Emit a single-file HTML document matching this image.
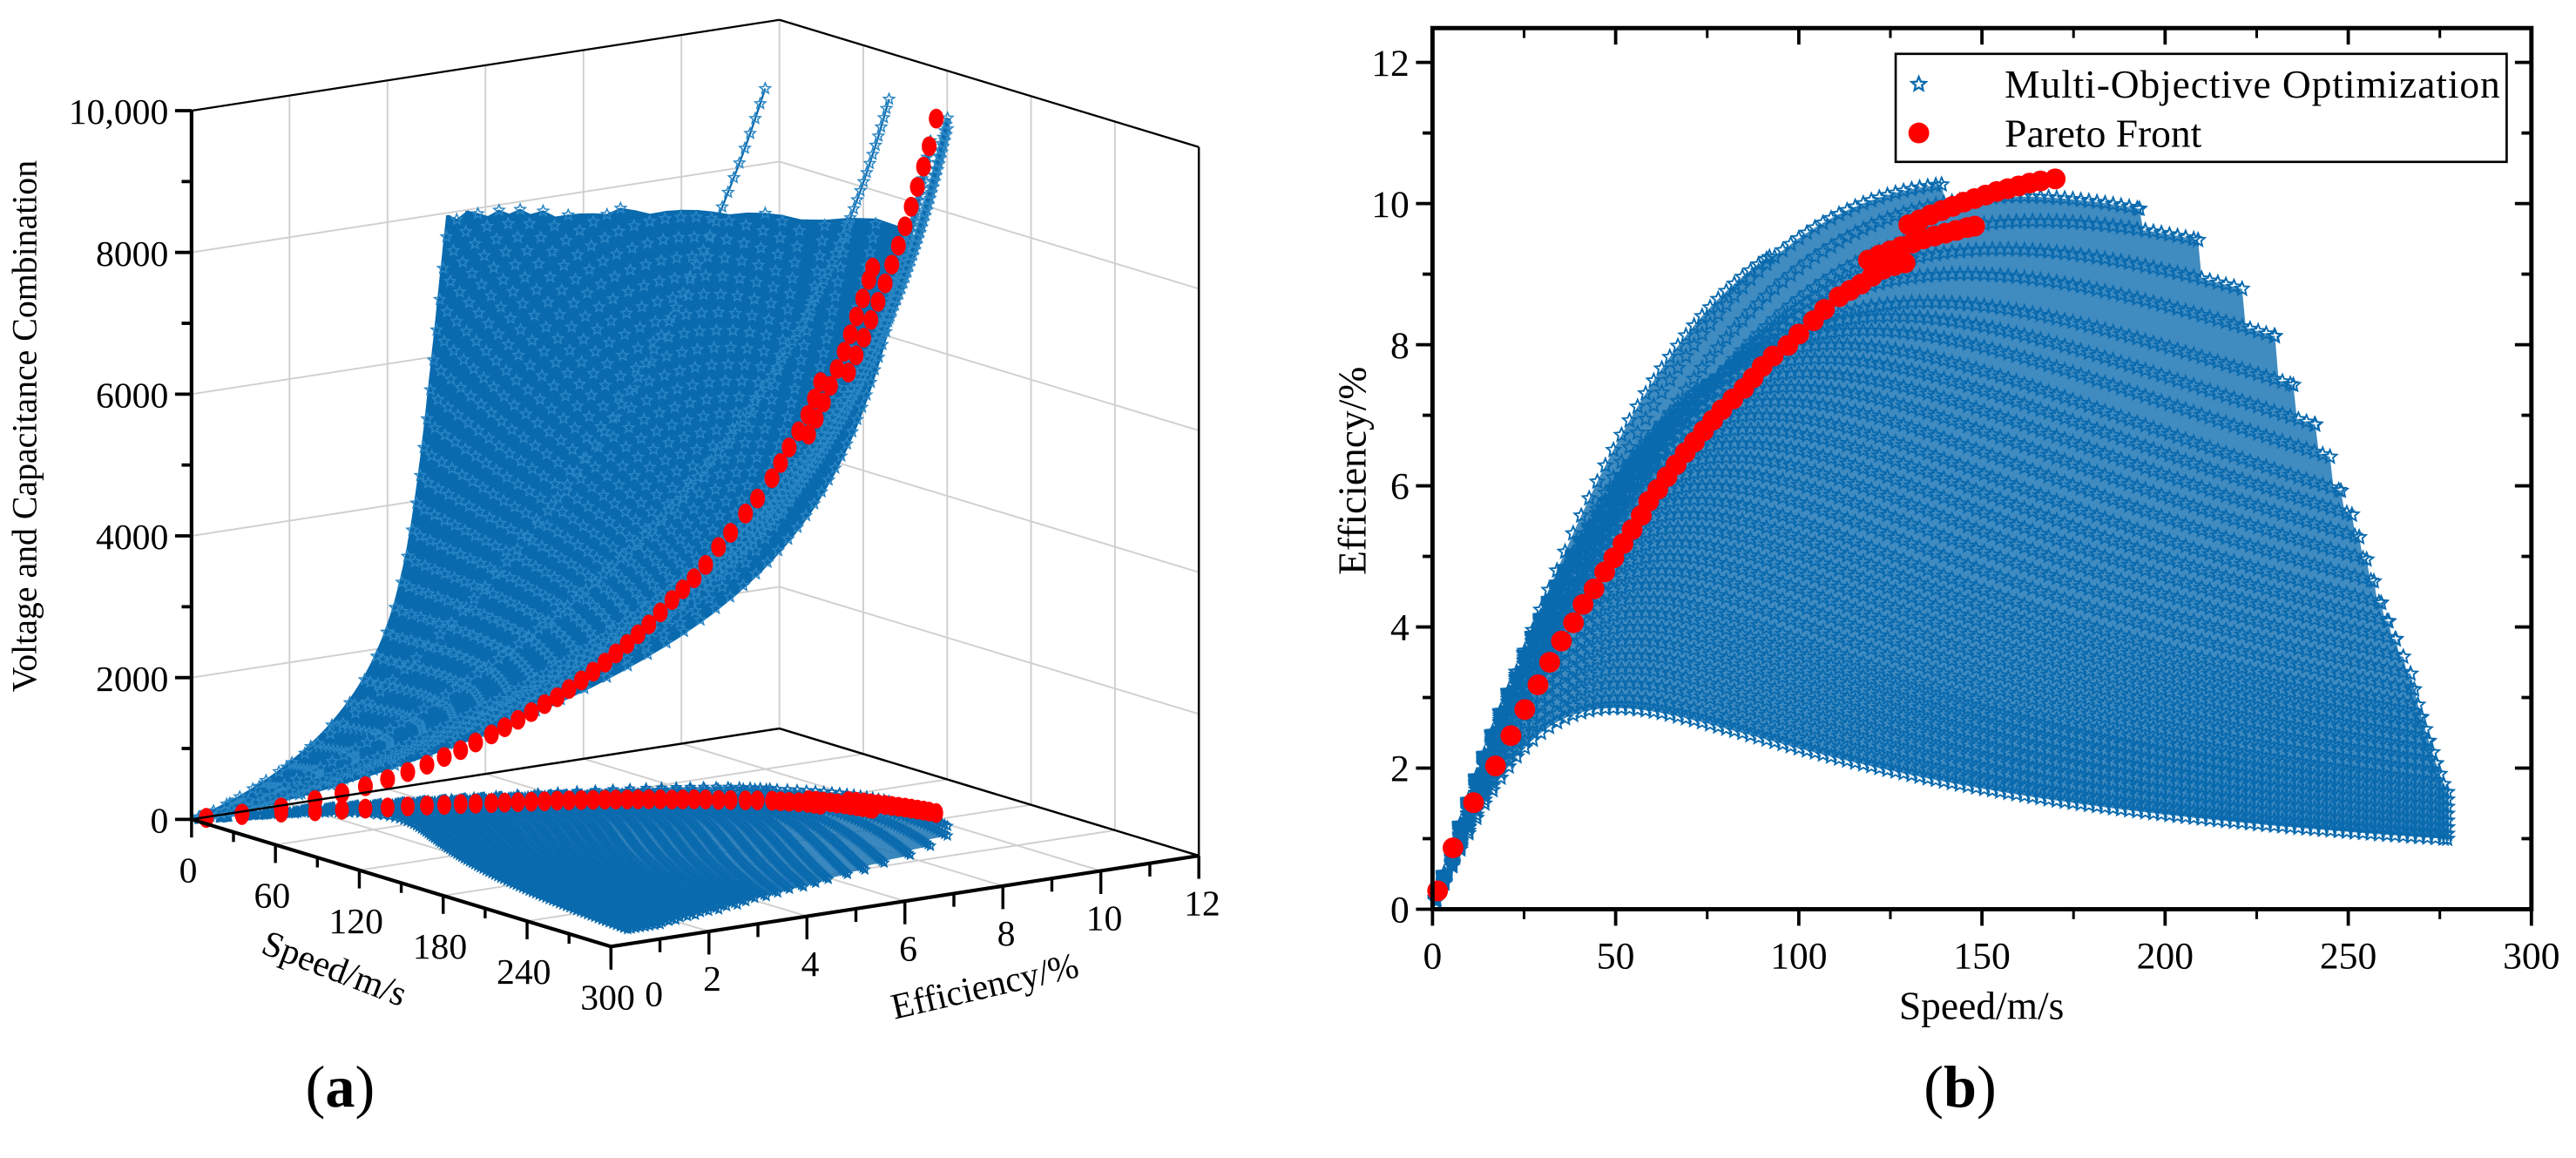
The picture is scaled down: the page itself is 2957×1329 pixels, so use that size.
<!DOCTYPE html>
<html><head><meta charset="utf-8"><title>Multi-objective optimization</title>
<style>
html,body{margin:0;padding:0;background:#fff;}
svg{display:block;font-family:"Liberation Serif",serif;}
</style></head>
<body>
<svg id="fig" width="2957" height="1329" viewBox="0 0 1560 701" preserveAspectRatio="none" xmlns="http://www.w3.org/2000/svg">
<g id="panelA"></g>
<g id="panelB"></g>
<text x="206" y="670" font-size="36" text-anchor="middle">(<tspan font-weight="bold">a</tspan>)</text>
<text x="1187" y="670" font-size="36" text-anchor="middle">(<tspan font-weight="bold">b</tspan>)</text>
</svg>
<script>
// ---- data (shared by both panels) ----
const curvePeakEff=[9.8,10.3,10.1,9.75,9.35,9.0,8.6,8.4,8.2,8.0,7.8,7.6,7.4,7.2,7.0,6.8,6.6,6.4,6.2,6.0,5.8,5.6,5.4,5.2,5.0,4.8,4.6,4.4,4.2,4.0,3.8,3.6,3.4,3.2,3.0,2.85];
const curvePeakSpeed=[130,150,160,165,155,145,135,125,118,110,106,102,98,94,90,87,84,81,78,75,72,70,68,66,64,62,60,58,57,56,55,54,53,52,51,50];
const curveEndSpeed=[92,139,193,209,221,230,235,241,245,248,251,253,255,257,259,261,263,265,267,268,269,270,271,272,273,274,275,276,277,277,277,277,277,277,277,277];
// voltage-capacitance combination reached at speed 100 m/s for each curve
const curveVCScale=[11400,6450,4250,3850,3570,3000,3170,3340,3510,3680,3850,4020,4190,4360,4530,4700,4870,5040,5210,5380,5550,5720,5890,6060,6230,6400,6570,6740,6910,7080,7250,7420,7590,7760,7930,8130];
const curveVCCap=[10000,10000,10000,10000,10000,9000,9000,9000,9000,9000,9000,9000,9000,9000,9000,9000,9000,9000,9000,9000,9000,9000,9000,9000,9000,9000,9000,9000,9000,9000,9000,9000,9000,9000,9000,9000];
const paretoSpeed=[1.4,5.6,11.2,17.2,21.4,25.2,28.8,32,35.2,38.5,41.1,44.1,47,49.5,52,54.5,57,59,61.5,64,66.5,69,71.5,74,76.5,79,82,85,87.5,90,93,97,100,104,107,111,114,117,120,123,126,129,
119,122,125,128,131,134,137,140,143,146,148,
130,133,136,139,142,145,148,151,154,157,160,163,166,170];
const paretoEff=[0.26,0.87,1.51,2.03,2.46,2.83,3.18,3.5,3.8,4.06,4.32,4.54,4.78,4.98,5.18,5.38,5.58,5.78,5.95,6.13,6.3,6.47,6.62,6.78,6.93,7.08,7.23,7.38,7.53,7.69,7.84,7.99,8.15,8.34,8.5,8.68,8.77,8.86,8.97,9.07,9.12,9.16,
9.2,9.27,9.33,9.39,9.44,9.5,9.54,9.58,9.62,9.66,9.68,
9.7,9.77,9.84,9.9,9.96,10.02,10.07,10.12,10.17,10.21,10.25,10.29,10.32,10.35];
const paretoMaxVC=9800;
const xTicksB=[0,50,100,150,200,250,300];
const yTicksB=[0,2,4,6,8,10,12];
const speedTicksA=[0,60,120,180,240,300];
const effTicksA=[0,2,4,6,8,10,12];
const vcTicksA=[0,2000,4000,6000,8000,10000];
const vcTickLabelsA=["0","2000","4000","6000","8000","10,000"];

const NS="http://www.w3.org/2000/svg";
const BLUE="#0a6aae", RED="#ff0000";
function mk(tag,attrs,parent){const e=document.createElementNS(NS,tag);for(const k in attrs)e.setAttribute(k,attrs[k]);parent.appendChild(e);return e;}
function effAt(i,v){const u=v/curvePeakSpeed[i];return curvePeakEff[i]*2*u/(1+u*u);}
function vcAt(i,v){return curveVCScale[i]*Math.pow(v/100,1.3);}
function starPath(x,y,r){let d="";for(let k=0;k<10;k++){const a=-Math.PI/2+k*Math.PI/5;const rr=k%2?r*0.45:r;d+=(k?"L":"M")+(x+rr*Math.cos(a)).toFixed(1)+" "+(y+rr*Math.sin(a)).toFixed(1);}return d+"Z";}

// ================= PANEL B =================
const B=document.getElementById('panelB');
const bx0=867.5,bx1=1533,by0=550.4,by12=37.8,btop=17;
const xs=v=>bx0+(v-0)/300*(bx1-bx0);
const ys=e=>by0-e/12*(by0-by12);

(function(){
 let top=[],bot=[];
 for(let v=0;v<=277;v+=1){let m=0;for(let i=0;i<curvePeakEff.length;i++){if(v<=curveEndSpeed[i]){m=Math.max(m,effAt(i,v));}}top.push(xs(v).toFixed(1)+","+ys(m).toFixed(1));bot.push(xs(v).toFixed(1)+","+ys(effAt(curvePeakEff.length-1,v)).toFixed(1));}
 const p=mk('polygon',{points:top.concat(bot.reverse()).join(" "),fill:BLUE,opacity:"0.78"},B);
 
 
})();
for(let i=0;i<curvePeakEff.length;i++){
 const g=mk('g',{},B);
 
 
 let d="";const E=curveEndSpeed[i];
 for(let v=1;v<=E;v+=2.2){d+=starPath(xs(v),ys(effAt(i,v)),4.3);}
 d+=starPath(xs(E),ys(effAt(i,E)),4.3);
 const p=mk('path',{d:d,fill:"none",stroke:BLUE,"stroke-width":"1"},g);
 
 
}
for(let k=0;k<paretoSpeed.length;k++){
 const c=mk('circle',{cx:xs(paretoSpeed[k]),cy:ys(paretoEff[k]),r:6.3,fill:RED},B);
 
 
}
(function(){
 const f=mk('rect',{x:bx0,y:btop,width:bx1-bx0,height:by0-btop,fill:"none",stroke:"#000","stroke-width":"2.6"},B);
 
 
 for(const t of xTicksB){
  const x=xs(t);
  const l=mk('line',{x1:x,y1:by0,x2:x,y2:by0+10,stroke:"#000","stroke-width":"2"},B);
  
  
  const l2=mk('line',{x1:x,y1:btop,x2:x,y2:btop+10,stroke:"#000","stroke-width":"2"},B);
  
  
  if(t<300){const xm=xs(t+25);
   const m1=mk('line',{x1:xm,y1:by0,x2:xm,y2:by0+6,stroke:"#000","stroke-width":"1.6"},B);
   
   
   const m2=mk('line',{x1:xm,y1:btop,x2:xm,y2:btop+6,stroke:"#000","stroke-width":"1.6"},B);
   
   }
  const tx=mk('text',{x:x,y:by0+36,"font-size":"23","text-anchor":"middle"},B);
  tx.textContent=String(t);
  
  
 }
 for(let e=0;e<=12;e++){
  const y=ys(e);const maj=e%2===0;
  const l=mk('line',{x1:bx0-(maj?10:6),y1:y,x2:bx0,y2:y,stroke:"#000","stroke-width":"2"},B);
  
  
  const l2=mk('line',{x1:bx1-(maj?10:6),y1:y,x2:bx1,y2:y,stroke:"#000","stroke-width":"2"},B);
  
  
 }
 for(const t of yTicksB){
  const tx=mk('text',{x:bx0-14,y:ys(t)+8,"font-size":"23","text-anchor":"end"},B);
  tx.textContent=String(t);
  
  
 }
})();
</script>
<script>
(function(){
 const B=document.getElementById('panelB');
 B.insertAdjacentHTML('beforeend',
 '<text x="1200" y="617" font-size="24" text-anchor="middle">Speed/m/s</text>'+
 '<text transform="translate(827,285) rotate(-90)" font-size="24" text-anchor="middle">Efficiency/%</text>'+
 '<g>'+
 '<rect x="1148" y="32.6" width="370" height="65.4" fill="#fff" stroke="#000" stroke-width="1.4"/>'+
 '<path d="'+starPath(1162,51,4.5)+'" fill="none" stroke="'+BLUE+'" stroke-width="1.2"/>'+
 '<text x="1214" y="59" font-size="24" textLength="300">Multi-Objective Optimization</text>'+
 '<circle cx="1162" cy="80.5" r="6.3" fill="'+RED+'"/>'+
 '<text x="1214" y="89" font-size="24">Pareto Front</text></g>');
})();

// ================= PANEL A (3D) =================
const A=document.getElementById('panelA');
const O=[116,496],S=[254,77],Ev=[356,-55],ZH=429;
function P(s,e,z){return [O[0]+s/300*S[0]+e/12*Ev[0], O[1]+s/300*S[1]+e/12*Ev[1]-z/10000*ZH];}
function pt(a){return a[0].toFixed(1)+","+a[1].toFixed(1);}
function line3(a,b,st,w,name){const l=mk('line',{x1:a[0],y1:a[1],x2:b[0],y2:b[1],stroke:st,"stroke-width":w},A);
 
 return l;}
const GRID="#cfcfcf";
for(let e=2;e<12;e+=2){line3(P(0,e,0),P(0,e,10000),GRID,"1","left-wall-grid");}
for(const z of vcTicksA){if(z>0)line3(P(0,0,z),P(0,12,z),GRID,"1","left-wall-grid");}
for(const s of speedTicksA){if(s>0&&s<300)line3(P(s,12,0),P(s,12,10000),GRID,"1","right-wall-grid");}
for(const z of vcTicksA){if(z>0&&z<10000)line3(P(0,12,z),P(300,12,z),GRID,"1","right-wall-grid");}
line3(P(0,12,0),P(0,12,10000),GRID,"1","back-corner-line");
for(const s of speedTicksA){if(s>0)line3(P(s,0,0),P(s,12,0),GRID,"1","floor-grid");}
for(const e of effTicksA){if(e>0)line3(P(0,e,0),P(300,e,0),GRID,"1","floor-grid");}

(function(){
 let top=[],bot=[];
 for(let v=0;v<=277;v+=2){let m=0;for(let i=0;i<curvePeakEff.length;i++){if(v<=curveEndSpeed[i])m=Math.max(m,effAt(i,v));}top.push(pt(P(v,m,0)));bot.push(pt(P(v,effAt(curvePeakEff.length-1,v),0)));}
 const p=mk('polygon',{points:top.concat(bot.reverse()).join(" "),fill:BLUE,opacity:"0.8"},A);
 
 
})();
for(let i=0;i<curvePeakEff.length;i++){
 let d="";const E=curveEndSpeed[i];
 for(let v=1;v<=E;v+=3){const q=P(v,effAt(i,v),0);d+=starPath(q[0],q[1],2.8);}
 const p=mk('path',{d:d,fill:"none",stroke:BLUE,"stroke-width":"0.9"},A);
 
 
}
for(let k=0;k<paretoSpeed.length;k++){
 const q=P(paretoSpeed[k],paretoEff[k],0);
 const c=mk('ellipse',{cx:q[0],cy:q[1],rx:4.2,ry:6,fill:RED},A);
 
 
}
// 3D curves: sample points
const curve3D=[];
for(let i=0;i<curvePeakEff.length;i++){
 const E=curveEndSpeed[i];let pts=[];
 for(let v=1;v<=E;v+=1.5){const z=vcAt(i,v);if(z>curveVCCap[i])break;pts.push(P(v,effAt(i,v),z));}
 curve3D.push(pts);
}
// solid sheet between neighbouring curves
for(let i=curvePeakEff.length-1;i>=5;i--){
 if(i===curvePeakEff.length-1)continue;
 const a=curve3D[i],b=curve3D[i+1];
 const poly=a.map(pt).concat(b.slice().reverse().map(pt));
 const p=mk('polygon',{points:poly.join(" "),fill:BLUE,stroke:BLUE,"stroke-width":"0.6"},A);
 
 
}
for(let i=curvePeakEff.length-1;i>=0;i--){
 const pts=curve3D[i];let d="";
 pts.forEach((q,k)=>{if(i<5||k%3===0)d+=starPath(q[0],q[1],3.4);});
 const pl=mk('polyline',{points:pts.map(pt).join(" "),fill:"none",stroke:BLUE,"stroke-width":i<2?"1.2":"3"},A);
 
 
 const sp=mk('path',{d:d,fill:"none",stroke:"#2a86c4","stroke-width":"0.8"},A);
 
 
}
const pMax=Math.max(...paretoSpeed);
for(let k=0;k<paretoSpeed.length;k++){
 const z=paretoMaxVC*Math.pow(paretoSpeed[k]/pMax,1.8);
 const q=P(paretoSpeed[k],paretoEff[k],z);
 const c=mk('ellipse',{cx:q[0],cy:q[1],rx:4.5,ry:6,fill:RED},A);
 
 
}
line3(P(0,0,0),P(0,0,10000),"#000","2.2","vc-axis-line");
line3(P(0,0,0),P(300,0,0),"#000","2.2","speed-axis-line");
line3(P(300,0,0),P(300,12,0),"#000","2.2","efficiency-axis-line");
line3(P(0,0,0),P(0,12,0),"#000","1.3","floor-back-edge");
line3(P(0,12,0),P(300,12,0),"#000","1.3","floor-right-edge");
line3(P(0,0,10000),P(0,12,10000),"#000","1.2","top-left-edge");
line3(P(0,12,10000),P(300,12,10000),"#000","1.2","top-right-edge");
line3(P(300,12,0),P(300,12,10000),"#000","1.3","right-wall-edge");
for(let z=0;z<=10000;z+=1000){const q=P(0,0,z);const maj=z%2000===0;line3([q[0]-(maj?10:6),q[1]],q,"#000","2","vc-tick");}
for(let k=0;k<vcTicksA.length;k++){const q=P(0,0,vcTicksA[k]);
 const t=mk('text',{x:q[0]-14,y:q[1]+8,"font-size":"22","text-anchor":"end"},A);
 t.textContent=vcTickLabelsA[k];
 
 }
for(let s=0;s<=300;s+=30){const q=P(s,0,0);const maj=s%60===0;line3(q,[q[0],q[1]+(maj?11:6)],"#000","1.8","speed-tick");}
for(const s of speedTicksA){const q=P(s,0,0);
 const t=mk('text',{x:q[0]-2,y:q[1]+38,"font-size":"22","text-anchor":"middle"},A);
 t.textContent=String(s);
 
 }
for(let e=0;e<=12;e++){const q=P(300,e,0);const maj=e%2===0;line3(q,[q[0],q[1]+(maj?14:8)],"#000","1.8","efficiency-tick");}
for(const e of effTicksA){const q=P(300,e,0);
 const t=mk('text',{x:q[0]+(e===0?26:2),y:q[1]+36,"font-size":"22","text-anchor":"middle"},A);
 t.textContent=String(e);
 
 }
A.insertAdjacentHTML('beforeend',
 '<text transform="translate(22,258) rotate(-90)" font-size="21" text-anchor="middle">Voltage and Capacitance Combination</text>'+
 '<text transform="translate(200,593) rotate(21)" font-size="22" text-anchor="middle">Speed/m/s</text>'+
 '<text transform="translate(598,604) rotate(-13)" font-size="22" text-anchor="middle">Efficiency/%</text>');
</script>
</body></html>
